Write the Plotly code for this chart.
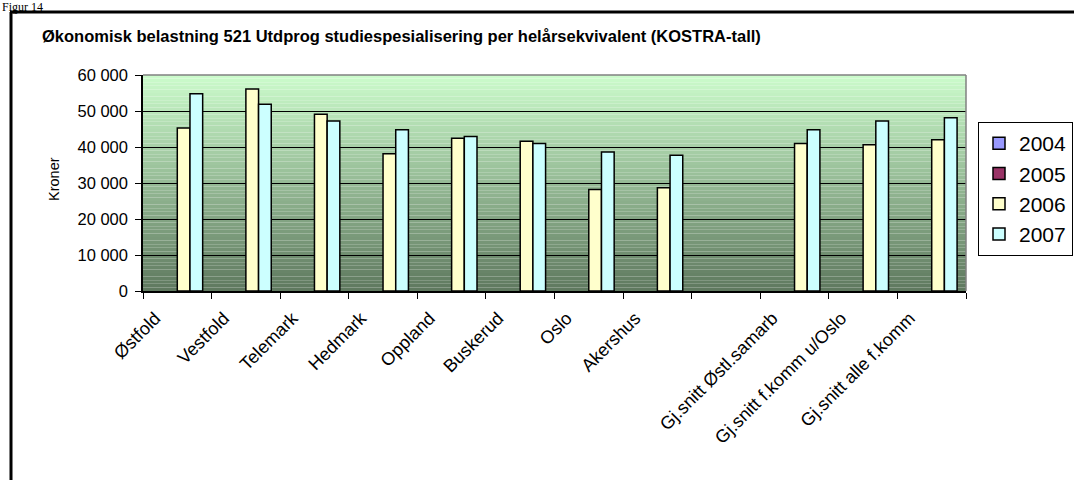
import plotly.graph_objects as go

categories = ["Østfold", "Vestfold", "Telemark", "Hedmark", "Oppland", "Buskerud",
              "Oslo", "Akershus", " ", "Gj.snitt Østl.samarb",
              "Gj.snitt f.komm u/Oslo", "Gj.snitt alle f.komm"]
values_2004 = [None] * 12
values_2005 = [None] * 12
values_2006 = [45300, 56100, 49100, 38100, 42400, 41600, 28200, 28700, None, 41000, 40600, 42000]
values_2007 = [54800, 51900, 47200, 44800, 42900, 41000, 38600, 37700, None, 44800, 47200, 48100]
series_names = ["2004", "2005", "2006", "2007"]
series_colors = ["#9999FF", "#993366", "#FFFFCC", "#CCFFFF"]
y_ticks = [0, 10000, 20000, 30000, 40000, 50000, 60000]

W, H = 1074, 480
L, R, T, B = 143, 966, 75, 291
pw, ph = R - L, B - T

def px_x(p):
    return (p - L) / pw

def px_y(p):
    return (B - p) / ph

fig = go.Figure()
for name, vals, col in zip(series_names, [values_2004, values_2005, values_2006, values_2007], series_colors):
    fig.add_trace(go.Bar(x=categories, y=vals, name=name,
                         marker=dict(color=col, line=dict(color="#000000", width=1.5))))

shapes = []
# gradient background
top = (204, 252, 204)
bot = (94, 120, 94)
n = 60
for i in range(n):
    t = (i + 0.5) / n
    c = tuple(int(round(bot[k] + (top[k] - bot[k]) * t)) for k in range(3))
    shapes.append(dict(type="rect", xref="x domain", yref="y domain",
                       x0=0, x1=1, y0=i / n, y1=(i + 1) / n,
                       fillcolor="rgb(%d,%d,%d)" % c, line=dict(width=0), layer="below"))
# plot area top & right border (gray)
shapes.append(dict(type="line", xref="paper", yref="paper", x0=0, x1=1, y0=1, y1=1,
                   line=dict(color="#808080", width=1.5), layer="above"))
shapes.append(dict(type="line", xref="paper", yref="paper", x0=1, x1=1, y0=0, y1=1,
                   line=dict(color="#808080", width=1.5), layer="above"))
# outer frame
shapes.append(dict(type="line", xref="paper", yref="paper",
                   x0=px_x(11), x1=px_x(11), y0=px_y(12), y1=px_y(490),
                   line=dict(color="#000000", width=3)))
shapes.append(dict(type="line", xref="paper", yref="paper",
                   x0=px_x(10), x1=px_x(1090), y0=px_y(12), y1=px_y(12),
                   line=dict(color="#000000", width=3)))

annotations = [
    dict(text="<b>Økonomisk belastning 521 Utdprog studiespesialisering per helårsekvivalent (KOSTRA-tall)</b>",
         xref="paper", yref="paper", x=px_x(40), y=px_y(36), xanchor="left", yanchor="middle",
         showarrow=False, font=dict(family="Liberation Sans, Arial", size=16.5, color="#000000")),
    dict(text="Kroner", xref="paper", yref="paper", x=px_x(54), y=px_y(179),
         xanchor="center", yanchor="middle", textangle=-90, showarrow=False,
         font=dict(family="Liberation Sans, Arial", size=14.5, color="#000000")),
    dict(text="Figur 14", xref="paper", yref="paper", x=px_x(0), y=px_y(-2),
         xanchor="left", yanchor="top", showarrow=False,
         font=dict(family="Liberation Serif, Times New Roman", size=12, color="#000000")),
]

fig.update_layout(
    width=W, height=H,
    margin=dict(l=L, r=W - R, t=T, b=H - B, pad=0, autoexpand=False),
    paper_bgcolor="#FFFFFF", plot_bgcolor="rgba(0,0,0,0)",
    barmode="group", bargap=0.26, bargroupgap=0,
    separators=", ",
    font=dict(family="Liberation Sans, Arial", color="#000000"),
    shapes=shapes, annotations=annotations,
    legend=dict(x=px_x(978), y=px_y(122), xanchor="left", yanchor="top",
                bgcolor="#FFFFFF", bordercolor="#000000", borderwidth=1,
                font=dict(size=21, family="Liberation Sans, Arial"),
                tracegroupgap=0, itemwidth=30),
    showlegend=True,
)
fig.update_xaxes(type="category", categoryorder="array", categoryarray=categories,
                 tickangle=-45, tickfont=dict(size=18),
                 ticklabelstandoff=8, ticklabelshift=-22,
                 showline=True, linecolor="#000000", linewidth=1.5,
                 ticks="outside", tickson="boundaries", ticklen=6, tickcolor="#000000",
                 showgrid=False, zeroline=False, automargin=False)
fig.update_yaxes(range=[0, 60000], tickvals=y_ticks, tickformat=",d",
                 tickfont=dict(size=16.5), ticklabelstandoff=4,
                 showline=True, linecolor="#000000", linewidth=1.5,
                 ticks="outside", ticklen=6, tickcolor="#000000",
                 showgrid=True, gridcolor="#000000", gridwidth=1, zeroline=False,
                 automargin=False)

fig.write_html("out.html", config={"displayModeBar": False},
               post_script="document.body.style.margin='0';document.body.style.padding='0';")
